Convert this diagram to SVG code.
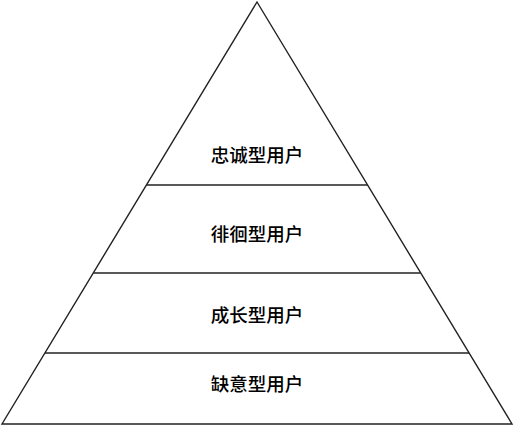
<svg xmlns="http://www.w3.org/2000/svg" width="516" height="426" viewBox="0 0 516 426">
<style>
.edge{stroke:#222;stroke-width:1.4;fill:none}
.lbl{font-family:"Microsoft YaHei","Noto Sans CJK SC",sans-serif;font-size:18.5px;font-weight:500;fill:#000;text-anchor:middle}
</style>
<rect width="516" height="426" fill="#fff"/>
<g id="connectors">
<polygon class="edge" points="257,2 2,424 512,424"/>
<line class="edge" x1="146.4" y1="185" x2="367.6" y2="185"/>
<line class="edge" x1="93.5" y1="273" x2="420.5" y2="273"/>
<line class="edge" x1="45" y1="353" x2="469" y2="353"/>
</g>
<g id="n1"><text class="lbl" x="257" y="161.5">忠诚型用户</text></g>
<g id="n2"><text class="lbl" x="257" y="240.5">徘徊型用户</text></g>
<g id="n3"><text class="lbl" x="257" y="321.5">成长型用户</text></g>
<g id="n4"><text class="lbl" x="257" y="390.5">缺意型用户</text></g>
</svg>
